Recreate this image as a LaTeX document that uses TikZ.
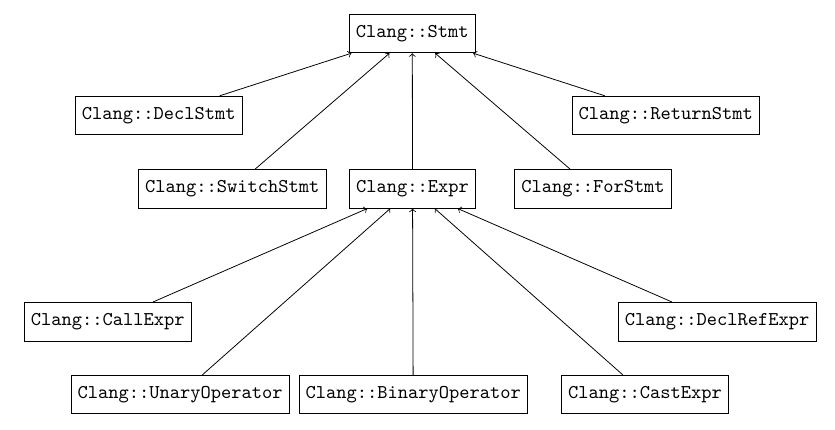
\documentclass[tikz,border=0pt]{standalone}
\begin{document}
\begin{tikzpicture}[x=0.5123pt,y=-0.5123pt,
  cls/.style={draw,font=\ttfamily,inner xsep=3.33pt,minimum height=19.8pt,line width=0.4pt},
  inh/.style={->,line width=0.4pt}]
\useasboundingbox (0,0) rectangle (835,429);
\node[cls] (stmt) at (412.3,33.5) {Clang::Stmt};
\node[cls] (decl) at (158.8,115.5) {Clang::DeclStmt};
\node[cls] (ret) at (665.7,115.5) {Clang::ReturnStmt};
\node[cls] (switch) at (232.3,188.8) {Clang::SwitchStmt};
\node[cls] (expr) at (412.5,188.8) {Clang::Expr};
\node[cls] (for) at (593,188.8) {Clang::ForStmt};
\node[cls] (call) at (107.8,321.7) {Clang::CallExpr};
\node[cls] (dref) at (717.2,321.7) {Clang::DeclRefExpr};
\node[cls] (unary) at (180.2,394.5) {Clang::UnaryOperator};
\node[cls] (binary) at (413.2,394.5) {Clang::BinaryOperator};
\node[cls] (cast) at (645,394.5) {Clang::CastExpr};
\foreach \c in {decl,ret,switch,expr,for} \draw[inh] (\c) -- (stmt);
\foreach \c in {call,dref,unary,binary,cast} \draw[inh] (\c) -- (expr);
\end{tikzpicture}
\end{document}
